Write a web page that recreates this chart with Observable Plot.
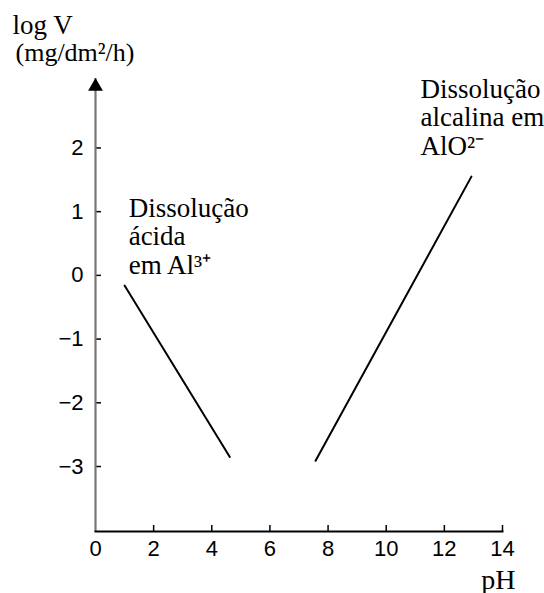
<!DOCTYPE html>
<html><head><meta charset="utf-8">
<script src="https://cdn.jsdelivr.net/npm/d3@7"></script>
<script src="https://cdn.jsdelivr.net/npm/@observablehq/plot@0.6"></script>
<style>
body{margin:0;background:#fff}
</style>
</head><body><div id="chart"></div>
<script>
// tick values
const xTicks = [0, 2, 4, 6, 8, 10, 12, 14];
const yTicks = [-3, -2, -1, 0, 1, 2];
const xDomain = [0, 14];
const yDomain = [-4.02, 3.09];

// series: acid dissolution (Al3+) and alkaline dissolution (AlO2-)
const acidPH = [1.0, 4.62];
const acidLogV = [-0.16, -2.85];
const alkPH = [7.57, 12.93];
const alkLogV = [-2.91, 1.55];

// annotation labels
const annotText = ["Dissolução\nácida\nem Al³⁺", "Dissolução\nalcalina em\nAlO²⁻"];
const annotPH = [1.14, 11.18];
const annotLogV = [1.23, 3.10];

const yTitle = "log V";
const yUnit = "(mg/dm²/h)";
const xTitle = "pH";

const acid = acidPH.map((x, i) => ({x, y: acidLogV[i]}));
const alk = alkPH.map((x, i) => ({x, y: alkLogV[i]}));
const annots = annotText.map((t, i) => ({t, x: annotPH[i], y: annotLogV[i]}));

const serif = "'Liberation Serif', 'Times New Roman', serif";
const sans = "'Liberation Sans', Arial, sans-serif";

const W = 544, H = 593, mL = 95, mR = 42, mT = 78, mB = 62;
const frameW = W - mL - mR, frameH = H - mT - mB;
const tickLen = 6;

const chart = Plot.plot({
  width: W,
  height: H,
  marginLeft: mL,
  marginRight: mR,
  marginTop: mT,
  marginBottom: mB,
  x: {domain: xDomain},
  y: {domain: yDomain},
  style: {fontFamily: sans, background: "#fff", color: "#000"},
  marks: [
    // inward tick marks
    Plot.tickX(xTicks.filter(d => d !== xDomain[0]), {x: d => d, insetTop: frameH - tickLen, stroke: "#000", strokeWidth: 1.5}),
    Plot.tickY(yTicks, {y: d => d, insetRight: frameW - tickLen, stroke: "#000", strokeWidth: 1.5}),
    // tick labels
    Plot.axisX({ticks: xTicks, tickSize: 0, tickPadding: 9, fontSize: 22, fontFamily: sans, label: null, fill: "#000"}),
    Plot.axisY({ticks: yTicks, tickSize: 0, tickPadding: 12, fontSize: 22, fontFamily: sans, label: null, fill: "#000"}),
    Plot.ruleX([xDomain[0]], {stroke: "#777", strokeWidth: 2.2}),
    Plot.frame({anchor: "bottom", stroke: "#000", strokeWidth: 2}),
    Plot.dot([{x: xDomain[0], y: yDomain[1]}], {x: "x", y: "y", symbol: "triangle", r: 5.5, fill: "#000", stroke: "none", dy: 8}),
    Plot.line(acid, {x: "x", y: "y", stroke: "#000", strokeWidth: 2}),
    Plot.line(alk, {x: "x", y: "y", stroke: "#000", strokeWidth: 2}),
    Plot.text(annots, {x: "x", y: "y", text: "t", textAnchor: "start", lineAnchor: "top", lineHeight: 1.05, fontSize: 27, fontFamily: serif, fill: "#000"}),
    Plot.text([yTitle], {frameAnchor: "top-left", dx: -83, dy: -45, textAnchor: "start", lineAnchor: "bottom", fontSize: 27, fontFamily: serif, fill: "#000"}),
    Plot.text([yUnit], {frameAnchor: "top-left", dx: -80, dy: -18, textAnchor: "start", lineAnchor: "bottom", fontSize: 26, fontFamily: serif, fill: "#000"}),
    Plot.text([xTitle], {frameAnchor: "bottom-right", dx: 13, dy: 57, textAnchor: "end", lineAnchor: "bottom", fontSize: 28, fontFamily: serif, fill: "#000"})
  ]
});
document.getElementById("chart").appendChild(chart);
</script>
</body></html>
